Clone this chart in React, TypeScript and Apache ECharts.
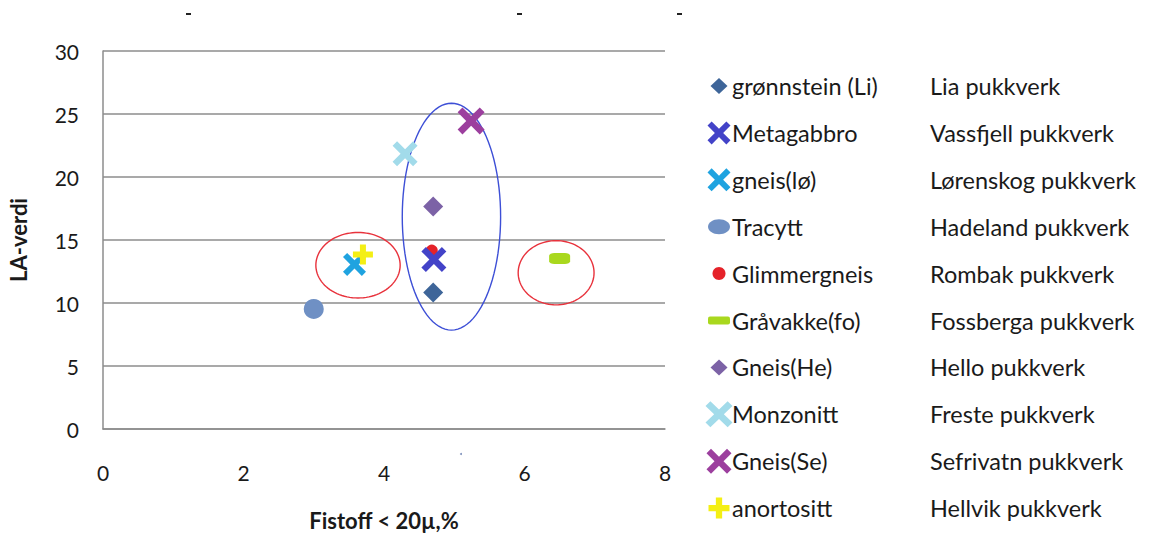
import React, { useEffect, useRef } from "react";
import * as echarts from "echarts";

// Rock types (legend labels) and the quarry each sample comes from
const rockTypes = [
  "grønnstein (Li)",
  "Metagabbro",
  "gneis(lø)",
  "Tracytt",
  "Glimmergneis",
  "Gråvakke(fo)",
  "Gneis(He)",
  "Monzonitt",
  "Gneis(Se)",
  "anortositt",
];
const quarries = [
  "Lia pukkverk",
  "Vassfjell pukkverk",
  "Lørenskog pukkverk",
  "Hadeland pukkverk",
  "Rombak pukkverk",
  "Fossberga pukkverk",
  "Hello pukkverk",
  "Freste pukkverk",
  "Sefrivatn pukkverk",
  "Hellvik pukkverk",
];
// Fines content (< 20 µm, %) and LA value per rock type
const fines = [4.7, 4.71, 3.58, 3.0, 4.68, 6.5, 4.7, 4.3, 5.24, 3.7];
const laValues = [10.84, 13.46, 13.06, 9.53, 14.16, 13.53, 17.65, 21.84, 24.45, 13.85];

// Axis ranges
const xRange = [0, 8, 2];
const yRange = [0, 30, 5];

// Grouping rings drawn around clusters: [centre x, centre y, radius x, radius y]
const ringsX = [3.63, 6.45, 4.96];
const ringsY = [13.0, 12.4, 16.85];
const ringsRx = [0.6, 0.54, 0.7];
const ringsRy = [2.6, 2.55, 9.0];
const ringColors = ["#e8323c", "#e8323c", "#3d4fd6"];

// Marker shapes as polygons in a [-1, 1] box
const a = 0.36;
const SHAPES: Record<string, number[][]> = {
  diamond: [[0, -1], [1, 0], [0, 1], [-1, 0]],
  cross: [
    [-1 + a, -1], [0, -a], [1 - a, -1], [1, -1 + a], [a, 0], [1, 1 - a],
    [1 - a, 1], [0, a], [-1 + a, 1], [-1, 1 - a], [-a, 0], [-1, -1 + a],
  ],
  plus: [
    [-0.3, -1], [0.3, -1], [0.3, -0.3], [1, -0.3], [1, 0.3], [0.3, 0.3],
    [0.3, 1], [-0.3, 1], [-0.3, 0.3], [-1, 0.3], [-1, -0.3], [-0.3, -0.3],
  ],
};

type Marker = { shape: string; size: number[]; legendSize: number[]; color: string };
const markers: Marker[] = [
  { shape: "diamond", size: [20, 20], legendSize: [17, 16], color: "#3e6599" },
  { shape: "cross", size: [25, 25], legendSize: [23, 23], color: "#4343c8" },
  { shape: "cross", size: [23, 23], legendSize: [23, 23], color: "#1fa3e0" },
  { shape: "circle", size: [20, 20], legendSize: [22, 15], color: "#6f90c4" },
  { shape: "circle", size: [12, 12], legendSize: [13, 13], color: "#e52229" },
  { shape: "bar", size: [21, 11], legendSize: [22, 8], color: "#a9d81e" },
  { shape: "diamond", size: [20, 20], legendSize: [17, 16], color: "#7c62a6" },
  { shape: "cross", size: [25, 25], legendSize: [27, 26], color: "#a2dbea" },
  { shape: "cross", size: [27, 27], legendSize: [25, 25], color: "#9c3f9e" },
  { shape: "plus", size: [20, 20], legendSize: [21, 21], color: "#f4ef14" },
];

const FONT = "Lato";
const LEGEND_TOP = 86;
const LEGEND_STEP = 46.9;

function symbolFor(shape: string): string {
  if (shape === "circle") return "circle";
  if (shape === "bar") return "roundRect";
  const pts = SHAPES[shape];
  return "path://M" + pts.map((p) => `${p[0] * 10 + 10},${p[1] * 10 + 10}`).join(" L") + " Z";
}

function legendIcon(m: Marker, cx: number, cy: number): any {
  const [w, h] = m.legendSize;
  if (m.shape === "circle") {
    return { type: "ellipse", shape: { cx, cy, rx: w / 2, ry: h / 2 }, style: { fill: m.color } };
  }
  if (m.shape === "bar") {
    return { type: "rect", shape: { x: cx - w / 2, y: cy - h / 2, width: w, height: h, r: 2 }, style: { fill: m.color } };
  }
  const pts = SHAPES[m.shape].map((p) => [cx + (p[0] * w) / 2, cy + (p[1] * h) / 2]);
  return { type: "polygon", shape: { points: pts }, style: { fill: m.color } };
}

export default function App() {
  const ref = useRef<HTMLDivElement>(null);

  useEffect(() => {
    if (!ref.current) return;
    const chart = echarts.init(ref.current, undefined, { renderer: "svg" });

    const scatterSeries = rockTypes.map((name, i) => ({
      name,
      type: "scatter",
      data: [[fines[i], laValues[i]]],
      symbol: symbolFor(markers[i].shape),
      symbolSize: markers[i].size,
      itemStyle: { color: markers[i].color, opacity: 1 },
      z: name === "Metagabbro" ? 4 : 3,
    }));

    const ringSeries = {
      type: "custom",
      name: "grupper",
      data: ringsX.map((x, i) => [x, ringsY[i], ringsRx[i], ringsRy[i], i]),
      encode: { x: 0, y: 1 },
      z: 2,
      silent: true,
      renderItem: (_p: any, api: any) => {
        const c = api.coord([api.value(0), api.value(1)]);
        const s = api.size([api.value(2), api.value(3)]);
        const pts: number[][] = [];
        for (let k = 0; k < 96; k++) {
          const t = (k / 96) * Math.PI * 2;
          pts.push([c[0] + s[0] * Math.cos(t), c[1] + s[1] * Math.sin(t)]);
        }
        return {
          type: "polygon",
          shape: { points: pts },
          style: { fill: "none", stroke: ringColors[api.value(4)], lineWidth: 1.4 },
        };
      },
    };

    const graphics: any[] = [];
    rockTypes.forEach((name, i) => {
      const cy = LEGEND_TOP + i * LEGEND_STEP;
      graphics.push(legendIcon(markers[i], 719, cy));
      graphics.push({
        type: "text",
        x: 732,
        y: cy,
        style: { text: name, fill: "#1a1a1a", font: `23.5px ${FONT}`, verticalAlign: "middle", align: "left" },
      });
      graphics.push({
        type: "text",
        x: 930,
        y: cy,
        style: { text: quarries[i], fill: "#1a1a1a", font: `23.5px ${FONT}`, verticalAlign: "middle", align: "left" },
      });
    });
    // small leftover marks along the top edge and under the axis
    [186, 517, 677].forEach((x) => {
      graphics.push({ type: "rect", shape: { x, y: 13, width: 5, height: 2 }, style: { fill: "#222" } });
    });
    graphics.push({ type: "circle", shape: { cx: 461, cy: 454, r: 1 }, style: { fill: "#8093bd" } });

    chart.setOption({
      animation: false,
      backgroundColor: "#ffffff",
      textStyle: { fontFamily: FONT },
      grid: { left: 103, right: 496, top: 51, bottom: 103, containLabel: false },
      xAxis: {
        type: "value",
        min: xRange[0],
        max: xRange[1],
        interval: xRange[2],
        name: "Fistoff < 20µ,%",
        nameLocation: "middle",
        nameGap: 80,
        nameTextStyle: { fontFamily: FONT, fontWeight: "bold", fontSize: 22, color: "#1a1a1a" },
        axisLine: { show: true, lineStyle: { color: "#8c8c8c", width: 1.5 } },
        axisTick: { show: false },
        splitLine: { show: false },
        axisLabel: { margin: 33, fontSize: 21, color: "#1a1a1a", fontFamily: FONT },
      },
      yAxis: {
        type: "value",
        min: yRange[0],
        max: yRange[1],
        interval: yRange[2],
        name: "LA-verdi",
        nameLocation: "middle",
        nameGap: 74,
        nameTextStyle: { fontFamily: FONT, fontWeight: "bold", fontSize: 22, color: "#1a1a1a" },
        axisLine: { show: true, lineStyle: { color: "#8c8c8c", width: 1.5 } },
        axisTick: { show: false },
        splitLine: { show: true, lineStyle: { color: "#8c8c8c", width: 1.5 } },
        axisLabel: { margin: 24, fontSize: 21, color: "#1a1a1a", fontFamily: FONT },
      },
      legend: { show: false },
      series: [ringSeries, ...scatterSeries],
      graphic: graphics,
    });

    return () => chart.dispose();
  }, []);

  return (
    <div
      ref={ref}
      style={{ position: "fixed", left: 0, top: 0, width: 1161, height: 536, background: "#fff" }}
    />
  );
}
